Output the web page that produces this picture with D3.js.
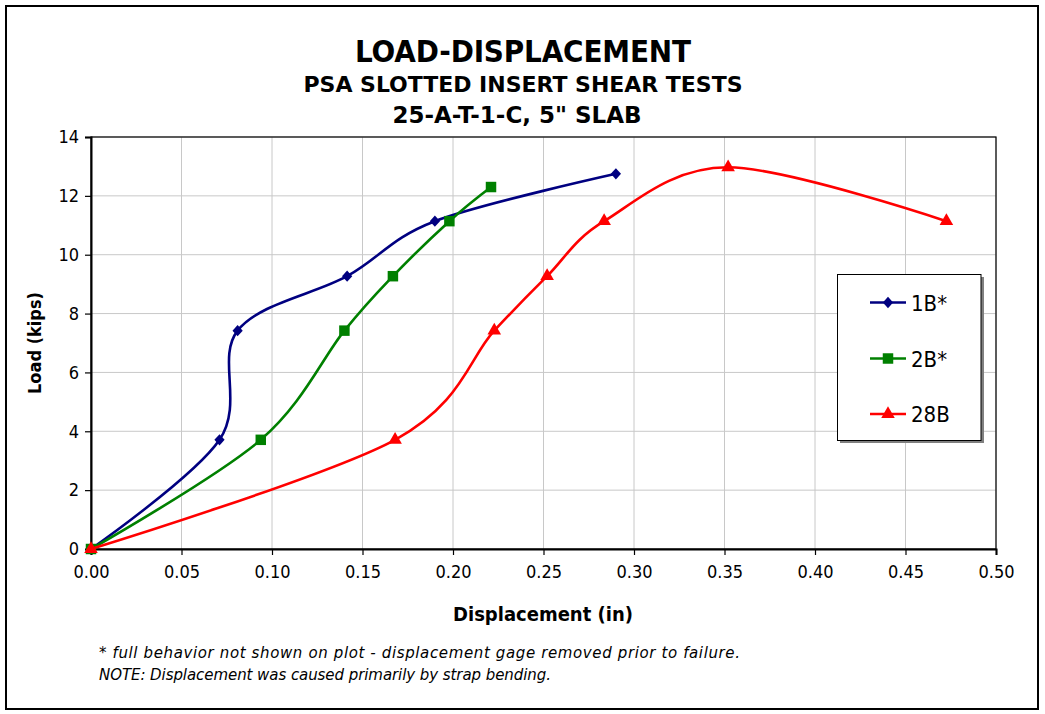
<!DOCTYPE html>
<html><head><meta charset="utf-8">
<script src="https://cdn.jsdelivr.net/npm/d3@7"></script>
<style>body{margin:0;background:#fff;} svg{display:block}</style>
</head><body><svg id="c" width="1045" height="714"></svg>
<script>
// ---- data ----
const seriesNames = ["1B*", "2B*", "28B"];
const disp1B  = [0, 0.071, 0.081, 0.1415, 0.190, 0.290];
const load1B  = [0, 3.71, 7.42, 9.27, 11.14, 12.75];
const disp2B  = [0, 0.0938, 0.140, 0.1668, 0.198, 0.221];
const load2B  = [0, 3.71, 7.42, 9.27, 11.14, 12.30];
const disp28B = [0, 0.168, 0.2228, 0.252, 0.2835, 0.352, 0.4726];
const load28B = [0, 3.71, 7.42, 9.27, 11.14, 12.97, 11.14];
const xTicks = [0, 0.05, 0.10, 0.15, 0.20, 0.25, 0.30, 0.35, 0.40, 0.45, 0.50];
const yTicks = [0, 2, 4, 6, 8, 10, 12, 14];
const titleLines = ["LOAD-DISPLACEMENT", "PSA SLOTTED INSERT SHEAR TESTS", "25-A-T-1-C, 5\" SLAB"];
const xLabel = "Displacement (in)";
const yLabel = "Load (kips)";
const notes = ["* full behavior not shown on plot - displacement gage removed prior to failure.",
               "NOTE: Displacement was caused primarily by strap bending."];

const FONTC = "'DejaVu Sans Condensed','DejaVu Sans',sans-serif";
const FONT = "'DejaVu Sans',sans-serif";
const series = [
  {name: seriesNames[0], xs: disp1B, ys: load1B, color: "#000080", sym: d3.symbolSquare, size: 58, rot: true},
  {name: seriesNames[1], xs: disp2B, ys: load2B, color: "#008000", sym: d3.symbolSquare, size: 110, rot: false},
  {name: seriesNames[2], xs: disp28B, ys: load28B, color: "#ff0000", sym: d3.symbolTriangle, size: 80, rot: false}
];
const symT = s => s.rot ? " scale(0.95,1.05) rotate(45)" : "";

const svg = d3.select("#c");
svg.append("rect").attr("x", 6).attr("y", 6).attr("width", 1032).attr("height", 703)
  .attr("fill", "#fff").attr("stroke", "#000").attr("stroke-width", 2);

const L = 91, R = 996, T = 137, B = 549;
const x = d3.scaleLinear().domain([0, 0.5]).range([L, R]);
const y = d3.scaleLinear().domain([0, 14]).range([B, T]);

// gridlines
const g = svg.append("g");
g.selectAll(".vg").data(xTicks.slice(1)).join("line")
  .attr("x1", d => x(d)).attr("x2", d => x(d)).attr("y1", T).attr("y2", B)
  .attr("stroke", "#c8c8c8").attr("stroke-width", 1);
g.selectAll(".hg").data(yTicks.slice(1)).join("line")
  .attr("x1", L).attr("x2", R).attr("y1", d => y(d)).attr("y2", d => y(d))
  .attr("stroke", "#c8c8c8").attr("stroke-width", 1);
// frame
svg.append("rect").attr("x", L).attr("y", T).attr("width", R - L).attr("height", B - T)
  .attr("fill", "none").attr("stroke", "#000").attr("stroke-width", 1.2);

// axes
const xAxis = d3.axisBottom(x).tickValues(xTicks).tickFormat(d3.format(".2f")).tickSize(6).tickPadding(10);
const yAxis = d3.axisLeft(y).tickValues(yTicks).tickFormat(d3.format("d")).tickSize(6).tickPadding(6);
const gx = svg.append("g").attr("transform", `translate(0,${B})`).call(xAxis);
const gy = svg.append("g").attr("transform", `translate(${L},0)`).call(yAxis);
[gx, gy].forEach(a => {
  a.select(".domain").attr("stroke", "#000").attr("stroke-width", 2);
  a.selectAll(".tick line").attr("stroke", "#000").attr("stroke-width", 1.2);
  a.selectAll(".tick text").attr("font-family", FONTC).attr("font-size", 18).attr("fill", "#000");
});

// lines
const line = d3.line().curve(d3.curveCardinal.tension(0)).x(d => x(d[0])).y(d => y(d[1]));
series.forEach(s => {
  const pts = s.xs.map((v, i) => [v, s.ys[i]]);
  svg.append("path").datum(pts).attr("d", line).attr("fill", "none")
    .attr("stroke", s.color).attr("stroke-width", 2.6);
  svg.append("g").selectAll("path").data(pts).join("path")
    .attr("d", d3.symbol().type(s.sym).size(s.size))
    .attr("transform", d => `translate(${x(d[0])},${y(d[1])})` + symT(s))
    .attr("fill", s.color);
});

// titles
const tfam = [FONTC, FONT, FONT], tsizes = [31, 22, 23], tbase = [62, 92, 123], tx = [523, 523, 517];
const tlen = [336, 439, null];
titleLines.forEach((t, i) => {
  const tt = svg.append("text").attr("x", tx[i]).attr("y", tbase[i]).attr("text-anchor", "middle")
    .attr("font-family", tfam[i]).attr("font-weight", "bold").attr("font-size", tsizes[i]).text(t);
  if (tlen[i]) tt.attr("textLength", tlen[i]);
});
svg.append("text").attr("x", 543).attr("y", 621).attr("text-anchor", "middle")
  .attr("font-family", FONTC).attr("font-weight", "bold").attr("font-size", 20).text(xLabel);
svg.append("text").attr("transform", "translate(41,343) rotate(-90)").attr("text-anchor", "middle")
  .attr("font-family", FONTC).attr("font-weight", "bold").attr("font-size", 18).text(yLabel);
const nlen = [641, 452];
notes.forEach((t, i) => {
  svg.append("text").attr("x", 99).attr("y", 658 + i * 22)
    .attr("font-family", FONT).attr("font-style", "italic").attr("font-size", 15)
    .attr("textLength", nlen[i]).text(t);
});

// legend
const lg = svg.append("g");
lg.append("rect").attr("x", 840).attr("y", 277).attr("width", 144).attr("height", 166).attr("fill", "#808080");
lg.append("rect").attr("x", 837.5).attr("y", 274.5).attr("width", 143.5).attr("height", 166)
  .attr("fill", "#fff").attr("stroke", "#000").attr("stroke-width", 1);
const rowsY = [302.5, 358.5, 414];
series.forEach((s, i) => {
  const yy = rowsY[i];
  lg.append("line").attr("x1", 870).attr("x2", 906).attr("y1", yy).attr("y2", yy)
    .attr("stroke", s.color).attr("stroke-width", 2.6);
  lg.append("path").attr("d", d3.symbol().type(s.sym).size(s.size))
    .attr("transform", `translate(888,${yy})` + symT(s))
    .attr("fill", s.color);
  lg.append("text").attr("x", 911).attr("y", yy + 8).attr("font-family", FONTC)
    .attr("font-size", 22).text(s.name);
});
</script></body></html>
